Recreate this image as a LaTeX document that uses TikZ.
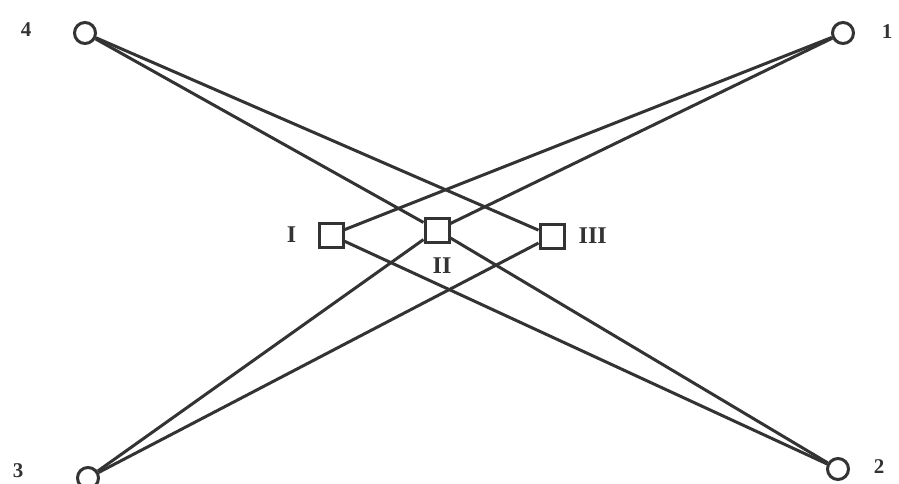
\documentclass[tikz,border=0pt]{standalone}
\usepackage{fontspec}
\setmainfont{Liberation Serif}
\usepackage{tikz}
\usetikzlibrary{positioning}
\definecolor{InkGray}{HTML}{333333}

\begin{document}
\begin{tikzpicture}[x=1pt,y=-1pt,
    term/.style={draw=InkGray,circle,line width=3pt,minimum size=21pt,inner sep=0pt},
    block/.style={draw=InkGray,rectangle,line width=3pt,minimum size=24pt,inner sep=0pt},
    tag/.style={font=\fontsize{21}{21}\selectfont\bfseries,text=InkGray,inner sep=1pt},
    roman/.style={font=\fontsize{24}{24}\selectfont\bfseries,text=InkGray,inner sep=1pt},
    wire/.style={InkGray,line width=3pt}]
  \useasboundingbox (0,0) rectangle (899,484);
  \node[term] (t4) at (85,33) {};
  \node[term] (t1) at (843,33) {};
  \node[term] (t3) at (88,478) {};
  \node[term] (t2) at (838,469) {};
  \node[tag] (n4) at (26,30) {4};
  \node[tag] (n1) at (887,32) {1};
  \node[tag] (n3) at (18,471) {3};
  \node[tag] (n2) at (879,467) {2};
  \node[block] (sI) at (331,235) {};
  \node[block] (sII) at (437,230) {};
  \node[block] (sIII) at (552,236) {};
  \node[roman,left=20pt of sI] (lI) {I};
  \node[roman] (lII) at (442,266) {II};
  \node[roman,right=12pt of sIII] (lIII) {III};
  \draw[wire] (t4) -- (sII);
  \draw[wire] (t4) -- (sIII);
  \draw[wire] (t1) -- (sI);
  \draw[wire] (t1) -- (sII);
  \draw[wire] (t3) -- (sII);
  \draw[wire] (t3) -- (sIII);
  \draw[wire] (t2) -- (sI);
  \draw[wire] (t2) -- (sII);
\end{tikzpicture}
\end{document}
